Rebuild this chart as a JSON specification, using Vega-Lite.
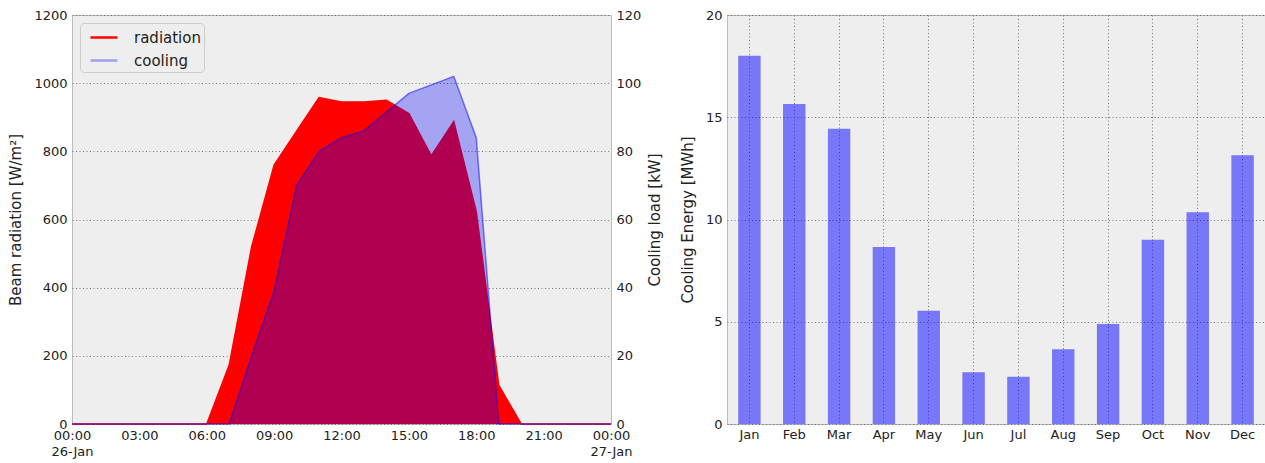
{
  "$schema": "https://vega.github.io/schema/vega-lite/v6.json",
  "background": "white",
  "padding": {"left": 8, "top": 8, "right": 0, "bottom": 0},
  "bounds": "flush",
  "spacing": 116,
  "datasets": {
    "day": [
      {"t": "2015-01-26T00:00:00", "radiation": 0, "cooling": 0},
      {"t": "2015-01-26T01:00:00", "radiation": 0, "cooling": 0},
      {"t": "2015-01-26T02:00:00", "radiation": 0, "cooling": 0},
      {"t": "2015-01-26T03:00:00", "radiation": 0, "cooling": 0},
      {"t": "2015-01-26T04:00:00", "radiation": 0, "cooling": 0},
      {"t": "2015-01-26T05:00:00", "radiation": 0, "cooling": 0},
      {"t": "2015-01-26T06:00:00", "radiation": 0, "cooling": 0},
      {"t": "2015-01-26T07:00:00", "radiation": 173, "cooling": 0},
      {"t": "2015-01-26T08:00:00", "radiation": 520, "cooling": 20},
      {"t": "2015-01-26T09:00:00", "radiation": 760, "cooling": 39},
      {"t": "2015-01-26T10:00:00", "radiation": 859, "cooling": 70},
      {"t": "2015-01-26T11:00:00", "radiation": 958, "cooling": 80},
      {"t": "2015-01-26T12:00:00", "radiation": 945, "cooling": 84},
      {"t": "2015-01-26T13:00:00", "radiation": 945, "cooling": 86},
      {"t": "2015-01-26T14:00:00", "radiation": 950, "cooling": 91.5},
      {"t": "2015-01-26T15:00:00", "radiation": 911, "cooling": 97},
      {"t": "2015-01-26T16:00:00", "radiation": 787, "cooling": 99.5},
      {"t": "2015-01-26T17:00:00", "radiation": 887, "cooling": 102},
      {"t": "2015-01-26T18:00:00", "radiation": 623, "cooling": 84},
      {"t": "2015-01-26T19:00:00", "radiation": 114, "cooling": 0},
      {"t": "2015-01-26T20:00:00", "radiation": 0, "cooling": 0},
      {"t": "2015-01-26T21:00:00", "radiation": 0, "cooling": 0},
      {"t": "2015-01-26T22:00:00", "radiation": 0, "cooling": 0},
      {"t": "2015-01-26T23:00:00", "radiation": 0, "cooling": 0},
      {"t": "2015-01-27T00:00:00", "radiation": 0, "cooling": 0}
    ],
    "monthly": [
      {"month": "Jan", "energy": 18.01},
      {"month": "Feb", "energy": 15.65},
      {"month": "Mar", "energy": 14.44},
      {"month": "Apr", "energy": 8.66},
      {"month": "May", "energy": 5.54},
      {"month": "Jun", "energy": 2.53},
      {"month": "Jul", "energy": 2.31},
      {"month": "Aug", "energy": 3.65},
      {"month": "Sep", "energy": 4.89},
      {"month": "Oct", "energy": 9.01},
      {"month": "Nov", "energy": 10.35},
      {"month": "Dec", "energy": 13.14}
    ]
  },
  "hconcat": [
    {
      "width": 539,
      "height": 409,
      "data": {"name": "day"},
      "encoding": {
        "x": {
          "field": "t",
          "type": "temporal",
          "title": null,
          "scale": {
            "domain": [
              {"year": 2015, "month": 1, "date": 26, "hours": 0},
              {"year": 2015, "month": 1, "date": 27, "hours": 0}
            ]
          },
          "axis": {
            "grid": false,
            "values": [
              {"year": 2015, "month": 1, "date": 26, "hours": 0},
              {"year": 2015, "month": 1, "date": 26, "hours": 3},
              {"year": 2015, "month": 1, "date": 26, "hours": 6},
              {"year": 2015, "month": 1, "date": 26, "hours": 9},
              {"year": 2015, "month": 1, "date": 26, "hours": 12},
              {"year": 2015, "month": 1, "date": 26, "hours": 15},
              {"year": 2015, "month": 1, "date": 26, "hours": 18},
              {"year": 2015, "month": 1, "date": 26, "hours": 21},
              {"year": 2015, "month": 1, "date": 27, "hours": 0}
            ],
            "labelExpr": "hours(datum.value) === 0 ? [timeFormat(datum.value, '%H:%M'), timeFormat(datum.value, '%d-%b')] : timeFormat(datum.value, '%H:%M')",
            "labelLineHeight": 16,
            "labelFlush": false,
            "labelOverlap": false,
            "labelPadding": 5
          }
        }
      },
      "layer": [
        {
          "layer": [
            {
              "mark": {"type": "area", "interpolate": "linear"},
              "encoding": {
                "color": {
                  "datum": "radiation",
                  "scale": {"domain": ["radiation", "cooling"], "range": ["#ff0000", "#0000ff"]},
                  "legend": {
                    "title": null,
                    "orient": "top-left",
                    "offset": 8,
                    "symbolType": "M-1.35,0H1.35",
                    "symbolSize": 400,
                    "symbolStrokeWidth": 2.5,
                    "symbolOffset": 9.5,
                    "labelFontSize": 15,
                    "labelFont": "DejaVu Sans",
                    "labelColor": "#222",
                    "labelOffset": 18.5,
                    "rowPadding": 3,
                    "padding": 3,
                    "fillColor": "#eeeeee",
                    "strokeColor": "#cccccc",
                    "cornerRadius": 4,
                    "encode": {
                      "symbols": {
                        "update": {
                          "stroke": {"scale": "color", "field": "value"},
                          "strokeOpacity": {"signal": "datum.value === 'cooling' ? 0.33 : 1"},
                          "fillOpacity": {"value": 0}
                        }
                      }
                    }
                  }
                },
                "y": {
                  "field": "radiation",
                  "type": "quantitative",
                  "title": "Beam radiation [W/m²]",
                  "scale": {"domain": [0, 1200], "nice": false},
                  "axis": {
                    "values": [0, 200, 400, 600, 800, 1000, 1200],
                    "format": "d",
                    "grid": true,
                    "titlePadding": 10
                  }
                }
              }
            },
            {
              "mark": {"type": "line", "color": "#ff0000", "strokeWidth": 1.5},
              "encoding": {"y": {"field": "radiation", "type": "quantitative"}}
            }
          ]
        },
        {
          "layer": [
            {
              "mark": {"type": "area", "interpolate": "linear", "fillOpacity": 0.31},
              "encoding": {
                "color": {"datum": "cooling"},
                "y": {
                  "field": "cooling",
                  "type": "quantitative",
                  "title": "Cooling load [kW]",
                  "scale": {"domain": [0, 120], "nice": false},
                  "axis": {
                    "orient": "right",
                    "values": [0, 20, 40, 60, 80, 100, 120],
                    "grid": false,
                    "titleAngle": 270,
                    "titleBaseline": "top",
                    "titlePadding": 7
                  }
                }
              }
            },
            {
              "mark": {"type": "line", "color": "#0000ff", "opacity": 0.5, "strokeWidth": 1.5},
              "encoding": {"y": {"field": "cooling", "type": "quantitative"}}
            }
          ]
        }
      ],
      "resolve": {"scale": {"y": "independent"}, "axis": {"y": "independent"}}
    },
    {
      "width": 538,
      "height": 409,
      "data": {"name": "monthly"},
      "mark": {"type": "bar", "color": "#0000ff", "opacity": 0.5},
      "encoding": {
        "x": {
          "field": "month",
          "type": "nominal",
          "sort": null,
          "title": null,
          "scale": {"paddingInner": 0.5, "paddingOuter": 0.25},
          "axis": {"labelAngle": 0, "grid": true, "bandPosition": 0.5, "labelPadding": 4}
        },
        "y": {
          "field": "energy",
          "type": "quantitative",
          "title": "Cooling Energy [MWh]",
          "scale": {"domain": [0, 20], "nice": false},
          "axis": {"values": [0, 5, 10, 15, 20], "grid": true, "titlePadding": 10}
        }
      }
    }
  ],
  "config": {
    "font": "DejaVu Sans",
    "view": {"fill": "#eeeeee", "stroke": "#bcbcbc", "strokeWidth": 1},
    "axis": {
      "labelFont": "DejaVu Sans",
      "labelFontSize": 13,
      "labelColor": "#222",
      "titleFont": "DejaVu Sans",
      "titleFontSize": 15,
      "titleFontWeight": "normal",
      "titleColor": "#222",
      "domain": false,
      "ticks": false,
      "labelPadding": 5,
      "gridColor": "#555555",
      "gridDash": [1, 2.5],
      "gridWidth": 0.8
    }
  }
}
